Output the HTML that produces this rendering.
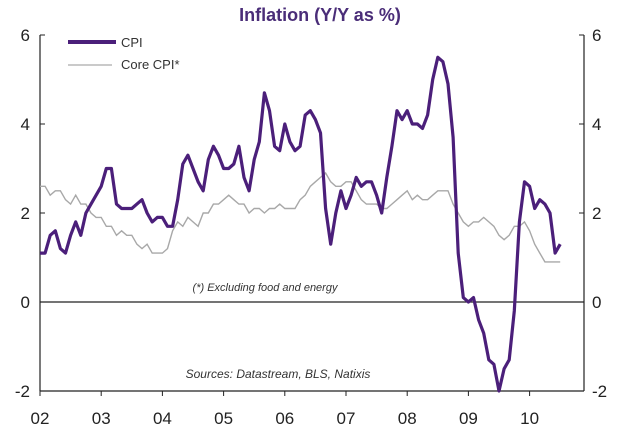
<!DOCTYPE html>
<html><head><meta charset="utf-8"><style>
body{margin:0;background:#fff;}
svg{display:block;font-family:"Liberation Sans",sans-serif;}
</style></head><body>
<svg id="c" width="640" height="443" viewBox="0 0 640 443">
<text x="320" y="21" text-anchor="middle" font-size="18" font-weight="bold" fill="#4a2d78">Inflation (Y/Y as %)</text>
<g id="axes"></g>
<g id="series"></g>
<g>
<line x1="68" y1="42" x2="116" y2="42" stroke="#4b1f7a" stroke-width="4"/>
<text x="121" y="47" font-size="13" fill="#333">CPI</text>
<line x1="68" y1="65" x2="112" y2="65" stroke="#aaa" stroke-width="1.2"/>
<text x="121" y="69" font-size="13" fill="#333">Core CPI*</text>
</g>
<text x="265" y="291" text-anchor="middle" font-size="11" font-style="italic" fill="#333">(*) Excluding food and energy</text>
<text x="278" y="378" text-anchor="middle" font-size="12" font-style="italic" fill="#333">Sources: Datastream, BLS, Natixis</text>
</svg>
<script>
const yTicks=[-2,0,2,4,6];
const xLabels=["02","03","04","05","06","07","08","09","10"];
const cpi=[1.1,1.1,1.5,1.6,1.2,1.1,1.5,1.8,1.5,2.0,2.2,2.4,
2.6,3.0,3.0,2.2,2.1,2.1,2.1,2.2,2.3,2.0,1.8,1.9,
1.9,1.7,1.7,2.3,3.1,3.3,3.0,2.7,2.5,3.2,3.5,3.3,
3.0,3.0,3.1,3.5,2.8,2.5,3.2,3.6,4.7,4.3,3.5,3.4,
4.0,3.6,3.4,3.5,4.2,4.3,4.1,3.8,2.1,1.3,2.0,2.5,
2.1,2.4,2.8,2.6,2.7,2.7,2.4,2.0,2.8,3.5,4.3,4.1,
4.3,4.0,4.0,3.9,4.2,5.0,5.5,5.4,4.9,3.7,1.1,0.1,
0.0,0.1,-0.4,-0.7,-1.3,-1.4,-2.0,-1.5,-1.3,-0.2,1.8,2.7,
2.6,2.1,2.3,2.2,2.0,1.1,1.3];
const core=[2.6,2.6,2.4,2.5,2.5,2.3,2.2,2.4,2.2,2.2,2.0,1.9,
1.9,1.7,1.7,1.5,1.6,1.5,1.5,1.3,1.2,1.3,1.1,1.1,
1.1,1.2,1.6,1.8,1.7,1.9,1.8,1.7,2.0,2.0,2.2,2.2,
2.3,2.4,2.3,2.2,2.2,2.0,2.1,2.1,2.0,2.1,2.1,2.2,
2.1,2.1,2.1,2.3,2.4,2.6,2.7,2.8,2.9,2.7,2.6,2.6,
2.7,2.7,2.5,2.3,2.2,2.2,2.2,2.1,2.1,2.2,2.3,2.4,
2.5,2.3,2.4,2.3,2.3,2.4,2.5,2.5,2.5,2.2,2.0,1.8,
1.7,1.8,1.8,1.9,1.8,1.7,1.5,1.4,1.5,1.7,1.7,1.8,
1.6,1.3,1.1,0.9,0.9,0.9,0.9];
const NS="http://www.w3.org/2000/svg";
const X0=40,X1=584,Y0=35,Y1=391;
const xs=i=>X0+i/12*61.2;
const ys=v=>Y0+(6-v)*(Y1-Y0)/8;
function mk(t,a,p){const e=document.createElementNS(NS,t);for(const k in a)e.setAttribute(k,a[k]);p.appendChild(e);return e;}
const ax=document.getElementById('axes');
let e;
e=mk('line',{x1:X0,y1:Y0,x2:X0,y2:Y1,stroke:'#222','stroke-width':1.2},ax);


e=mk('line',{x1:X1,y1:Y0,x2:X1,y2:Y1,stroke:'#222','stroke-width':1.2},ax);


e=mk('line',{x1:X0,y1:Y1,x2:X1,y2:Y1,stroke:'#222','stroke-width':1.2},ax);


e=mk('line',{x1:X0,y1:ys(0),x2:X1,y2:ys(0),stroke:'#222','stroke-width':1.2},ax);


yTicks.forEach(v=>{
 const y=ys(v);
 mk('line',{x1:X0,y1:y,x2:X0+5,y2:y,stroke:'#222'},ax);
 mk('line',{x1:X1-5,y1:y,x2:X1,y2:y,stroke:'#222'},ax);
 e=mk('text',{x:30,y:y+6,'text-anchor':'end','font-size':17,fill:'#222'},ax);e.textContent=v;
 
 
 e=mk('text',{x:592,y:y+6,'font-size':17,fill:'#222'},ax);e.textContent=v;
 
 
});
xLabels.forEach((l,i)=>{
 const x=xs(i*12);
 mk('line',{x1:x,y1:Y1,x2:x,y2:Y1+5,stroke:'#222'},ax);
 e=mk('text',{x:x,y:424,'text-anchor':'middle','font-size':17,fill:'#222'},ax);e.textContent=l;
 
 
});
const sg=document.getElementById('series');
const pts=a=>a.map((v,i)=>xs(i).toFixed(1)+','+ys(v).toFixed(1)).join(' ');
e=mk('polyline',{points:pts(core),fill:'none',stroke:'#a8a8a8','stroke-width':1.4},sg);


e=mk('polyline',{points:pts(cpi),fill:'none',stroke:'#4b1f7a','stroke-width':3.2,'stroke-linejoin':'round'},sg);


</script>
</body></html>
